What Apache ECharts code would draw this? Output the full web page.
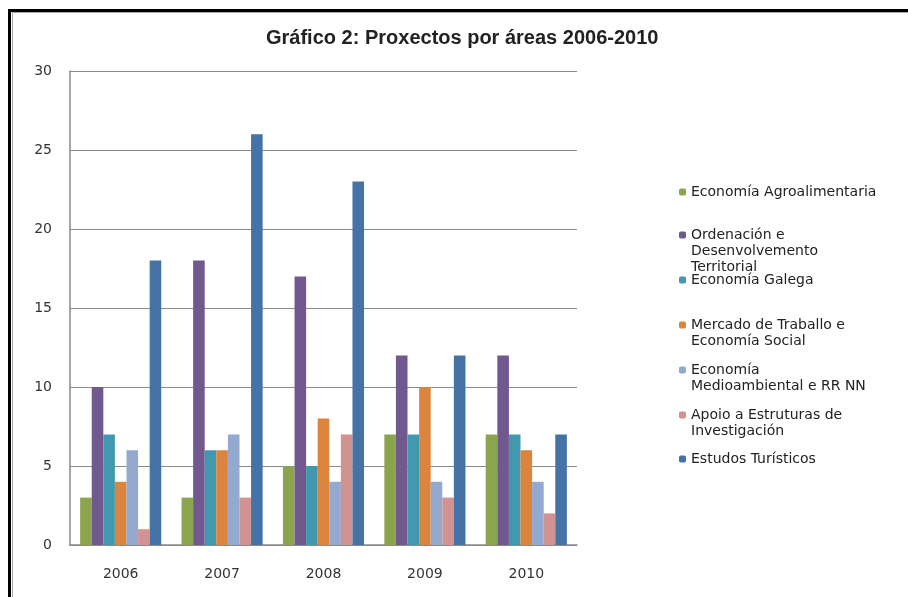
<!DOCTYPE html>
<html>
<head>
<meta charset="UTF-8" />
<script type="text/javascript" src="https://cdn.jsdelivr.net/npm/echarts@6/dist/echarts.min.js"></script>
<style>
	html, body { margin: 0; padding: 0; background: #fff; }
	#chartmain { width: 908px; height: 597px; }
</style>
</head>
<body>
	<div id="chartmain"></div>

	<script type="text/javascript">
		// datos
		var years = [ '2006', '2007', '2008', '2009', '2010' ];
		var areaNames = [ 'Economía Agroalimentaria',
				'Ordenación e Desenvolvemento Territorial',
				'Economía Galega',
				'Mercado de Traballo e Economía Social',
				'Economía Medioambiental e RR NN',
				'Apoio a Estruturas de Investigación',
				'Estudos Turísticos' ];
		var legendText = [ 'Economía Agroalimentaria',
				'Ordenación e\nDesenvolvemento\nTerritorial',
				'Economía Galega',
				'Mercado de Traballo e\nEconomía Social',
				'Economía\nMedioambiental e RR NN',
				'Apoio a Estruturas de\nInvestigación',
				'Estudos Turísticos' ];
		var agroalimentaria = [ 3, 3, 5, 7, 7 ];
		var ordenacion = [ 10, 18, 17, 12, 12 ];
		var galega = [ 7, 6, 5, 7, 7 ];
		var mercado = [ 4, 6, 8, 10, 6 ];
		var medioambiental = [ 6, 7, 4, 4, 4 ];
		var apoio = [ 1, 3, 7, 3, 2 ];
		var turisticos = [ 18, 26, 23, 12, 7 ];
		var values = [ agroalimentaria, ordenacion, galega, mercado,
				medioambiental, apoio, turisticos ];
		var colors = [ '#8BA54E', '#71588F', '#4198AF', '#DB843D', '#93A9CF',
				'#D19392', '#4572A7' ];

		// posicion (primeira liña) de cada elemento da lenda
		var legendY = [ 192, 235, 280, 325, 370, 415, 459 ];
		var lineH = 16;

		var series = [];
		var legends = [];
		for (var i = 0; i < areaNames.length; i++) {
			series.push({
				name : areaNames[i],
				type : 'bar',
				data : values[i],
				barGap : '0%',
				barCategoryGap : '20%',
				itemStyle : {
					color : colors[i]
				}
			});
			var n = legendText[i].split('\n').length;
			// liñas baleiras enriba para que o cadradiño quede na primeira liña
			var txt = new Array(n).join('\n') + legendText[i];
			(function(txt) {
				legends.push({
					data : [ areaNames[i] ],
					orient : 'vertical',
					left : 679,
					top : legendY[i] - (2 * n - 1) * lineH / 2,
					padding : 0,
					itemWidth : 7,
					itemHeight : 7,
					selectedMode : false,
					formatter : function() {
						return txt;
					},
					textStyle : {
						fontFamily : 'DejaVu Sans',
						fontSize : 14,
						lineHeight : lineH,
						color : '#222'
					}
				});
			})(txt);
		}

		var option = {
			animation : false,
			backgroundColor : '#fff',
			title : {
				text : 'Gráfico 2: Proxectos por áreas 2006-2010',
				left : 266,
				top : 28,
				padding : 0,
				textStyle : {
					fontFamily : 'Liberation Sans',
					fontWeight : 'bold',
					fontSize : 20,
					color : '#222'
				}
			},
			legend : legends,
			grid : {
				left : 70,
				top : 71,
				right : 331,
				bottom : 52,
				containLabel : false
			},
			xAxis : {
				type : 'category',
				data : years,
				axisLine : {
					lineStyle : {
						color : '#8a8a8a',
						width : 1.5
					}
				},
				axisTick : {
					show : false
				},
				axisLabel : {
					margin : 22,
					fontFamily : 'DejaVu Sans',
					fontSize : 14,
					color : '#333'
				}
			},
			yAxis : {
				type : 'value',
				min : 0,
				max : 30,
				interval : 5,
				axisLine : {
					show : true,
					lineStyle : {
						color : '#8a8a8a',
						width : 1.5
					}
				},
				axisTick : {
					show : false
				},
				splitLine : {
					lineStyle : {
						color : '#8a8a8a',
						width : 1
					}
				},
				axisLabel : {
					margin : 18,
					fontFamily : 'DejaVu Sans',
					fontSize : 14,
					color : '#333'
				}
			},
			series : series,
			graphic : [ {
				type : 'rect',
				shape : { x : 8, y : 9, width : 3, height : 600 },
				style : { fill : '#000' }
			}, {
				type : 'rect',
				shape : { x : 8, y : 9, width : 905, height : 3 },
				style : { fill : '#000' }
			}, {
				type : 'rect',
				shape : { x : 12, y : 12, width : 1, height : 600 },
				style : { fill : '#aaa' }
			}, {
				type : 'rect',
				shape : { x : 12, y : 12, width : 900, height : 1 },
				style : { fill : '#aaa' }
			} ]
		};

		var myChart = echarts.init(document.getElementById('chartmain'));
		myChart.setOption(option);
	</script>
</body>
</html>
